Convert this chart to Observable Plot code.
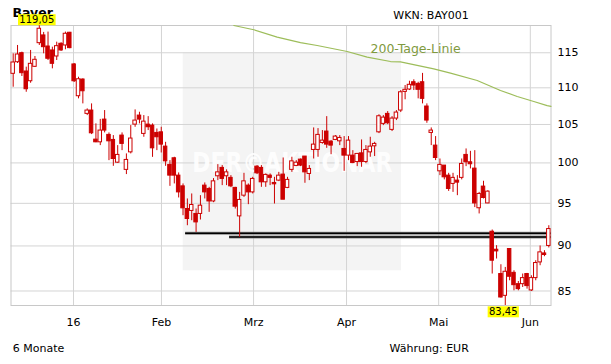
<!DOCTYPE html>
<html><head><meta charset="utf-8">
<script src="https://cdn.jsdelivr.net/npm/d3@7"></script>
<script src="https://cdn.jsdelivr.net/npm/@observablehq/plot@0.6"></script>
<style>
body{margin:0;background:#fff;}
#chart{position:relative;width:611px;height:364px;}
</style></head><body><div id="chart"></div>
<script>
// ---- data (trading-day index 0..123, Dec 2015 – Jun 2016) ----
const open = [111.97,113.63,114.94,112.30,110.92,112.97,116.41,117.56,115.92,115.34,114.46,116.32,116.07,117.96,113.31,108.83,111.16,106.42,106.87,103.00,102.65,105.65,103.62,102.96,100.03,103.53,99.12,101.35,104.98,106.19,103.75,104.98,104.85,103.88,103.96,102.09,99.75,100.59,98.40,97.07,94.32,94.09,93.73,93.73,97.16,96.75,95.23,98.32,99.37,98.32,98.12,96.88,93.44,95.93,97.16,96.33,99.53,99.37,97.57,98.40,97.49,97.78,98.53,96.88,99.12,99.62,100.42,100.81,98.61,101.66,101.66,102.57,104.06,102.74,102.96,102.78,101.79,100.93,100.93,100.11,101.22,100.11,101.35,102.13,103.96,105.08,106.42,104.28,105.79,106.87,109.43,109.76,110.78,110.55,110.78,107.42,103.88,102.22,98.94,99.66,98.40,97.37,97.78,98.12,101.02,100.08,99.28,94.41,97.04,94.99,91.64,89.57,86.85,84.48,89.65,86.98,85.74,85.74,86.85,85.06,86.40,88.14,89.15,90.00];
const high = [114.85,116.07,115.09,112.92,115.34,114.46,119.05,118.01,118.06,115.82,116.56,116.47,118.06,118.01,113.45,111.49,111.26,107.10,107.78,105.08,105.68,106.87,103.88,103.53,102.22,103.88,101.15,104.85,106.96,106.64,106.19,106.05,105.08,104.40,104.63,102.65,100.29,100.72,98.74,97.37,95.53,96.14,94.32,95.93,97.49,96.95,98.03,99.78,99.66,99.12,98.40,96.95,96.33,98.69,97.37,98.19,99.66,99.66,98.61,98.61,98.19,98.81,100.63,98.19,100.72,100.29,100.50,100.81,99.66,104.54,104.45,104.19,106.05,102.87,103.53,103.53,103.40,103.40,101.57,101.15,102.96,102.22,103.31,102.65,106.30,106.19,106.73,106.05,106.87,109.62,110.32,110.92,111.12,110.78,112.03,107.78,104.54,103.40,100.50,99.66,98.69,98.69,98.40,100.50,101.79,101.48,101.57,96.33,97.70,96.54,91.84,90.03,87.88,87.58,89.68,87.21,86.03,86.85,86.92,86.66,88.33,90.00,89.46,92.34];
const low = [110.08,113.45,111.59,109.38,110.64,112.87,116.07,114.85,113.88,112.68,113.88,115.19,115.44,115.59,110.74,108.47,107.78,106.19,103.66,102.60,102.22,103.88,100.29,99.57,99.94,101.57,98.53,101.15,104.63,105.08,103.31,104.19,100.71,101.57,101.27,99.57,97.07,97.37,95.65,93.52,92.34,92.93,91.56,93.01,95.53,93.92,95.08,97.78,97.16,97.16,96.91,94.32,90.98,95.72,94.84,96.14,98.53,96.95,96.95,97.16,94.92,97.66,95.44,96.79,98.81,99.53,99.53,97.45,97.78,100.50,100.72,102.40,101.87,101.05,102.87,102.22,98.94,100.29,99.91,99.53,99.45,99.91,100.72,100.81,103.79,104.85,104.98,104.06,105.52,106.60,108.34,109.62,109.62,108.47,107.78,105.16,102.22,100.29,98.40,97.87,96.45,96.33,95.93,97.87,99.53,99.24,94.49,93.73,95.53,94.96,86.85,88.52,84.24,83.45,86.11,85.02,85.02,85.38,85.20,84.95,86.11,87.77,88.78,89.77];
const close = [113.59,114.75,112.06,109.80,113.40,113.98,118.56,115.82,114.13,113.40,115.97,115.34,117.81,115.68,110.92,111.20,109.52,106.87,103.83,102.65,104.19,104.19,102.78,100.50,101.02,102.44,100.38,103.14,105.52,105.65,105.38,104.63,101.87,103.31,102.35,100.20,98.40,98.40,96.33,94.40,93.13,94.80,92.73,94.72,96.33,95.23,97.69,98.81,97.99,98.81,97.07,94.60,95.41,97.69,96.33,97.99,98.69,97.57,98.49,98.12,97.32,98.40,95.44,97.87,100.20,100.03,99.66,98.81,99.24,102.35,103.62,102.87,102.35,102.22,103.40,103.22,100.93,102.87,99.98,101.15,100.11,101.66,102.09,102.44,106.10,105.92,105.16,105.79,106.60,109.38,109.72,110.42,110.32,109.72,108.47,105.52,104.19,100.63,99.75,98.19,96.75,98.12,97.53,99.87,100.08,99.83,94.99,96.14,95.65,96.42,88.33,89.38,84.30,87.10,86.55,85.63,85.20,86.40,85.53,86.40,88.07,89.27,88.97,91.95];

// 200-day moving average, read points (index, value)
const smaIdx = [50.66,55.25,60.62,65.97,69.81,76.7,81.29,86.64,88.94,96.58,100.42,106.55,111.9,115.74,119.55,122.62,123.5];
const smaVal = [119.05,118.41,117.30,116.48,116.07,115.19,114.36,113.73,113.69,112.68,112.06,111.02,109.62,108.79,108.10,107.55,107.45];

// support lines (start index, level)
const supportStart = [39.6, 49.7];
const supportLevel = [91.46, 91.03];

const yTicks = [85, 90, 95, 100, 105, 110, 115];
const xTickPos = [13.85, 34.05, 55.2, 76.55, 97.7, 118.75];
const xTickLabels = ["16", "Feb", "Mrz", "Apr", "Mai", "Jun"];

const titleText = "Bayer";
const wknText = "WKN: BAY001";
const periodText = "6 Monate";
const currencyText = "Währung: EUR";
const smaLabel = "200-Tage-Linie";
const watermark = "DER©AKTIONÄR";

// ---- build tables ----
const candles = open.map((o, i) => ({i, o, h: high[i], l: low[i], c: close[i]}));
const upC = candles.filter(d => d.c >= d.o);
const downC = candles.filter(d => d.c < d.o);
const sma = smaIdx.map((x, k) => ({x, v: smaVal[k]}));
const supports = supportStart.map((s, k) => ({s, v: supportLevel[k]}));
const xticks = xTickPos.map((p, k) => ({p, label: xTickLabels[k]}));
const maxI = d3.maxIndex(high), minI = d3.minIndex(low);
const fmt = v => d3.format(".2f")(v).replace(".", ",");
const maxRec = {i: maxI, v: high[maxI], t: fmt(high[maxI])};
const minRec = {i: minI, v: low[minI], t: fmt(low[minI])};

const red = "#cc0000";
const font = "DejaVu Sans, Verdana, sans-serif";

const chart = Plot.plot({
  width: 611, height: 364,
  marginTop: 25, marginBottom: 59, marginLeft: 10.5, marginRight: 60.5,
  style: {fontFamily: font, fontSize: "11px", background: "white"},
  x: {type: "linear", domain: [-0.5, 123.5], axis: null},
  y: {type: "log", domain: [83.45, 119.05], axis: null},
  marks: [
    // watermark panel
    Plot.rect([{x1: 39.04, x2: 89.17, y1: 87.21, y2: 115}], {x1: "x1", x2: "x2", y1: "y1", y2: "y2", fill: "#f4f4f4"}),
    Plot.ruleY(yTicks, {stroke: "#d4d4d4", strokeWidth: 1}),
    Plot.ruleX(xTickPos, {stroke: "#d4d4d4", strokeWidth: 1}),
    Plot.text([watermark], {x: 64.1, y: 98.8, text: d => d, fill: "white", fontSize: 27, fontWeight: "bold", lineAnchor: "bottom", textAnchor: "middle"}),
    Plot.frame({stroke: "#c8c8c8"}),
    // 200-day line
    Plot.line(sma, {x: "x", y: "v", stroke: "#9dbd5a", strokeWidth: 1.2}),
    Plot.text([smaLabel], {x: 82.05, y: 115, text: d => d, fill: "#7f9a3e", fontSize: 12.5, textAnchor: "start", lineAnchor: "bottom"}),
    // support lines
    Plot.ruleY(supports, {y: "v", x1: "s", x2: 123.5, stroke: "#8a8a8a", strokeWidth: 3.2}),
    Plot.ruleY(supports, {y: "v", x1: "s", x2: 123.5, stroke: "#000", strokeWidth: 1.4}),
    // candles
    Plot.ruleX(candles, {x: "i", y1: "l", y2: "h", stroke: red, strokeWidth: 1}),
    Plot.rect(downC, {x1: d => d.i - 0.4, x2: d => d.i + 0.4, y1: "o", y2: "c", fill: red, stroke: red, strokeWidth: 1}),
    Plot.rect(upC, {x1: d => d.i - 0.4, x2: d => d.i + 0.4, y1: "o", y2: "c", fill: "white", stroke: red, strokeWidth: 1}),
    // axes
    Plot.text(yTicks, {y: d => d, text: d => String(d), frameAnchor: "right", dx: 6.5, textAnchor: "start", fontSize: 11, fill: "black"}),
    Plot.text(xticks, {x: "p", text: "label", frameAnchor: "bottom", dy: 20.5, lineAnchor: "bottom", fontSize: 11, fill: "black"}),
    // header / footer
    Plot.text([titleText], {text: d => d, frameAnchor: "top-left", dx: 1.5, dy: -9, lineAnchor: "bottom", textAnchor: "start", fontSize: 12.5, fontWeight: "bold", fill: "black"}),
    Plot.text([wknText], {text: d => d, frameAnchor: "top-right", dx: -82.2, dy: -6.8, lineAnchor: "bottom", textAnchor: "end", fontSize: 11, fill: "black"}),
    Plot.text([periodText], {text: d => d, frameAnchor: "bottom-left", dx: 1.8, dy: 46, lineAnchor: "bottom", textAnchor: "start", fontSize: 11, fill: "black"}),
    Plot.text([currencyText], {text: d => d, frameAnchor: "bottom-right", dx: -82.2, dy: 46, lineAnchor: "bottom", textAnchor: "end", fontSize: 11, fill: "black"}),
    // extreme labels
    Plot.text([maxRec], {x: "i", y: "v", text: "t", dx: -2.5, dy: -2.3, lineAnchor: "bottom", fontSize: 10, fill: "black"}),
    Plot.text([minRec], {x: "i", y: "v", text: "t", dx: -2, dy: 2.7, lineAnchor: "top", fontSize: 10, fill: "black"})
  ]
});
document.getElementById("chart").append(chart);

// yellow boxes behind extreme labels; watermark width
d3.select(chart).selectAll("text").each(function() {
  const t = this.textContent;
  if (t === maxRec.t || t === minRec.t) {
    const b = this.getBBox();
    const r = document.createElementNS("http://www.w3.org/2000/svg", "rect");
    r.setAttribute("x", b.x - 1.3);
    r.setAttribute("y", b.y);
    r.setAttribute("width", b.width + 2.6);
    r.setAttribute("height", b.height);
    r.setAttribute("fill", "#ffff00");
    const tr = this.getAttribute("transform");
    if (tr) r.setAttribute("transform", tr);
    this.parentNode.insertBefore(r, this);
  } else if (t === watermark) {
    this.setAttribute("textLength", 200);
    this.setAttribute("lengthAdjust", "spacingAndGlyphs");
    this.setAttribute("opacity", 0.9);
  }
});
</script>
</body></html>
